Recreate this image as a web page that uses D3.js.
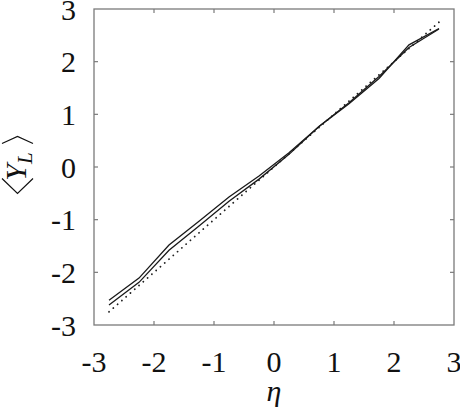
<!DOCTYPE html>
<html>
<head>
<meta charset="utf-8">
<script src="https://cdn.jsdelivr.net/npm/d3@7"></script>
<style>
  body { margin: 0; background: #fff; }
  .serif { font-family: "Liberation Serif", "Times New Roman", Times, serif; fill: #111; }
  .tick-label { font-size: 30px; }
</style>
</head>
<body>
<svg id="chart" width="460" height="411"></svg>
<script>
// values
var eta   = [-2.75, -2.25, -1.75, -1.25, -0.75, -0.25, 0.25, 0.75, 1.25, 1.75, 2.25, 2.75];
var upper = [-2.53, -2.11, -1.48, -1.03, -0.57, -0.17, 0.27, 0.77, 1.20, 1.68, 2.32, 2.63];
var lower = [-2.62, -2.19, -1.58, -1.12, -0.65, -0.23, 0.24, 0.77, 1.22, 1.72, 2.27, 2.62];
var ideal = [-2.75, -2.25, -1.75, -1.25, -0.75, -0.25, 0.25, 0.75, 1.25, 1.75, 2.25, 2.75];
var ticks = [-3, -2, -1, 0, 1, 2, 3];

var svg = d3.select("#chart");
var plot = {left: 94, right: 454, top: 9, bottom: 325};

var x = d3.scaleLinear().domain([-3, 3]).range([plot.left, plot.right]);
var y = d3.scaleLinear().domain([-3, 3]).range([plot.bottom, plot.top]);

var frameColor = "#7a7a7a";

// inner ticks on all four sides
var inner = ticks.slice(1, -1);
var tk = svg.append("g").attr("stroke", frameColor).attr("stroke-width", 1.2);
inner.forEach(function (t) {
    tk.append("line").attr("x1", x(t)).attr("x2", x(t)).attr("y1", plot.bottom).attr("y2", plot.bottom - 4);
    tk.append("line").attr("x1", x(t)).attr("x2", x(t)).attr("y1", plot.top).attr("y2", plot.top + 4);
    tk.append("line").attr("y1", y(t)).attr("y2", y(t)).attr("x1", plot.left).attr("x2", plot.left + 4);
    tk.append("line").attr("y1", y(t)).attr("y2", y(t)).attr("x1", plot.right).attr("x2", plot.right - 4);
});

// frame
svg.append("rect")
    .attr("x", plot.left).attr("y", plot.top)
    .attr("width", plot.right - plot.left).attr("height", plot.bottom - plot.top)
    .attr("fill", "none")
    .attr("stroke", frameColor)
    .attr("stroke-width", 1.3);

function fmt(d) { return d < 0 ? "-" + Math.abs(d) : "" + d; }

// tick labels
svg.append("g").selectAll("text")
    .data(ticks)
    .enter().append("text")
    .attr("class", "serif tick-label")
    .attr("x", function (d) { return x(d); })
    .attr("y", 372)
    .attr("text-anchor", "middle")
    .text(fmt);

svg.append("g").selectAll("text")
    .data(ticks)
    .enter().append("text")
    .attr("class", "serif tick-label")
    .attr("x", 76)
    .attr("y", function (d) { return y(d) + 10.5; })
    .attr("text-anchor", "end")
    .text(fmt);

// curves
var line = d3.line()
    .x(function (d) { return x(d[0]); })
    .y(function (d) { return y(d[1]); });

function pairs(vals) {
    return eta.map(function (e, i) { return [e, vals[i]]; });
}

svg.append("path")
    .datum(pairs(ideal))
    .attr("d", line)
    .attr("fill", "none")
    .attr("stroke", "#222")
    .attr("stroke-width", 1.8)
    .attr("stroke-linecap", "round")
    .attr("stroke-dasharray", "0.1 5.6");

[upper, lower].forEach(function (s) {
    svg.append("path")
        .datum(pairs(s))
        .attr("d", line)
        .attr("fill", "none")
        .attr("stroke", "#1a1a1a")
        .attr("stroke-width", 1.3);
});

// x axis title
svg.append("text")
    .attr("class", "serif")
    .attr("x", 274)
    .attr("y", 401)
    .attr("text-anchor", "middle")
    .style("font-style", "italic")
    .style("font-size", "30px")
    .text("\u03b7");

// y axis title  <Y_L>
var yl = svg.append("g").attr("transform", "translate(26,166.5) rotate(-90)");
yl.append("text")
    .attr("class", "serif")
    .attr("x", 0)
    .attr("y", 0)
    .attr("text-anchor", "middle")
    .style("font-style", "italic")
    .style("font-size", "30px")
    .call(function (t) {
        t.append("tspan").text("Y");
        t.append("tspan").attr("dy", 6).style("font-size", "21px").text("L");
    });
yl.append("path")
    .attr("d", "M-12,-24 L-27,-8.5 L-12,7")
    .attr("fill", "none").attr("stroke", "#111").attr("stroke-width", 1.2);
yl.append("path")
    .attr("d", "M23,-24 L30,-8.5 L23,7")
    .attr("fill", "none").attr("stroke", "#111").attr("stroke-width", 1.2);
</script>
</body>
</html>
